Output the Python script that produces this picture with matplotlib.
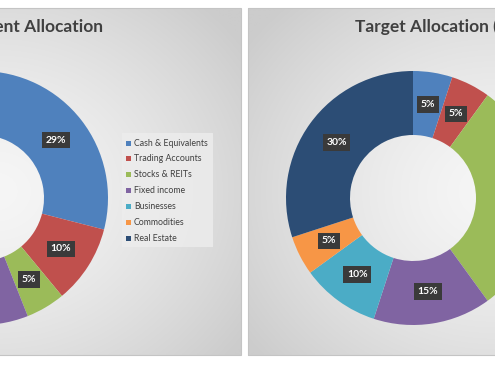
import numpy as np
import matplotlib
matplotlib.use("Agg")
import matplotlib.pyplot as plt
from matplotlib.patches import Rectangle

plt.rcParams["font.family"] = ["Lato", "DejaVu Sans"]

categories = ["Cash & Equivalents", "Trading Accounts", "Stocks & REITs",
              "Fixed income", "Businesses", "Commodities", "Real Estate"]
current_pct = [29, 10, 5, 15, 10, 6, 25]
target_pct = [5, 5, 30, 15, 10, 5, 30]
colors = ["#4f81bd", "#c0504d", "#9bbb59", "#8064a2", "#4bacc6", "#f79646", "#2c4d75"]
titles = ["Current Allocation", "Target Allocation (%)"]

H = 365


def py(y):
    # pixel row -> data y
    return H - y


def panel_background(ax, x0, x1, y0, y1):
    rect = Rectangle((x0, py(y1)), x1 - x0, y1 - y0, facecolor="none",
                     edgecolor="#c4c4c4", linewidth=0.8, zorder=3)
    ax.add_patch(rect)
    xs = np.linspace(x0, x1, 300)
    ys = np.linspace(py(y1), py(y0), 200)
    gx, gy = np.meshgrid(xs, ys)
    cx, cy = (x0 + x1) / 2, py((y0 + y1) / 2 + 10)
    d = np.sqrt(((gx - cx) / ((x1 - x0) * 0.62)) ** 2 + ((gy - cy) / ((y1 - y0) * 0.75)) ** 2)
    d = np.clip(d, 0, 1) ** 1.4
    c0, c1 = 0.965, 0.80
    img = c0 + (c1 - c0) * d
    im = ax.imshow(np.dstack([img, img, img]), extent=(x0, x1, py(y1), py(y0)),
                   origin="lower", interpolation="bilinear", zorder=0, aspect="auto")
    clip = Rectangle((x0, py(y1)), x1 - x0, y1 - y0, transform=ax.transData)
    im.set_clip_path(clip)
    return clip


def donut(ax, values, cx, cy, clip):
    wedges, _, autotexts = ax.pie(
        values, colors=colors, startangle=90, counterclock=False,
        center=(cx, py(cy)), radius=127, frame=True,
        wedgeprops=dict(width=64, linewidth=0),
        autopct="%.0f%%", pctdistance=0.745,
        textprops=dict(color="white", fontsize=7.5, fontweight="bold"))
    for w in wedges:
        w.set_clip_path(clip)
        w.set_zorder(2)
    for t in autotexts:
        t.set_bbox(dict(boxstyle="square,pad=0.35", facecolor="#3a3a3a", edgecolor="none"))
        t.set_zorder(4)
        # labels whose slice lies outside the cropped view are not shown
        x, _ = t.get_position()
        if x < 12 or x > 483:
            t.set_visible(False)


fig = plt.figure(figsize=(4.95, 3.65), dpi=100)
ax = fig.add_axes([0, 0, 1, 1])

clip_left = panel_background(ax, -250, 241, 8, 355)
clip_right = panel_background(ax, 248, 740, 8, 355)

donut(ax, current_pct, -19, 198, clip_left)
donut(ax, target_pct, 413, 198, clip_right)

ax.text(103, py(27), titles[0], ha="right", va="center", fontsize=12.5,
        fontweight="bold", color="#404040", zorder=5)
ax.text(355, py(27), titles[1], ha="left", va="center", fontsize=12.5,
        fontweight="bold", color="#404040", zorder=5)

# legend
ax.add_patch(Rectangle((122, py(247)), 91, 114, facecolor="#ededed",
                       edgecolor="none", alpha=0.8, zorder=3))
for i, (name, col) in enumerate(zip(categories, colors)):
    yy = py(143 + 15.9 * i)
    ax.add_patch(Rectangle((126, yy - 2.5), 5, 5, facecolor=col, edgecolor="none", zorder=4))
    ax.text(134, yy, name, ha="left", va="center", fontsize=6.3, color="#404040", zorder=4)

ax.set_xlim(0, 495)
ax.set_ylim(0, 365)
ax.set_aspect("auto")
ax.axis("off")

fig.savefig("out.png", dpi=100, facecolor="white")
